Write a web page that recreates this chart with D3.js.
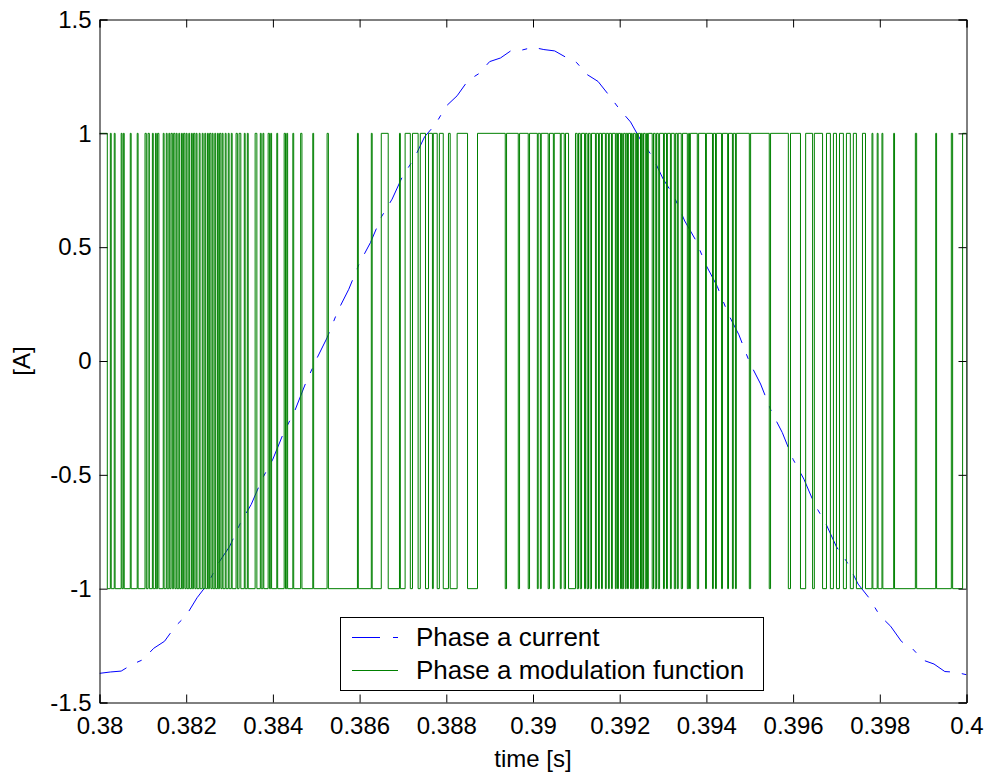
<!DOCTYPE html>
<html><head><meta charset="utf-8">
<script src="https://cdn.jsdelivr.net/npm/d3@7"></script>
<style>body{margin:0;background:#fff}svg{display:block}</style>
</head><body><div id="chart"></div>
<script>
// ---- data ----
const xTickValues = [0.38,0.382,0.384,0.386,0.388,0.39,0.392,0.394,0.396,0.398,0.4];
const xTickLabels = ["0.38","0.382","0.384","0.386","0.388","0.39","0.392","0.394","0.396","0.398","0.4"];
const yTickValues = [-1.5,-1,-0.5,0,0.5,1,1.5];
const yTickLabels = ["-1.5","-1","-0.5","0","0.5","1","1.5"];
const seriesNames = ["Phase a current","Phase a modulation function"];

const currentTime = [0.38,0.38025,0.3805,0.38075,0.381,0.38125,0.3815,0.38175,0.382,0.38225,0.3825,0.38275,0.383,0.38325,0.3835,0.38375,0.384,0.38425,0.3845,0.38475,0.385,0.38525,0.3855,0.38575,0.386,0.38625,0.3865,0.38675,0.387,0.38725,0.3875,0.38775,0.388,0.38825,0.3885,0.38875,0.389,0.38925,0.3895,0.38975,0.39,0.39025,0.3905,0.39075,0.391,0.39125,0.3915,0.39175,0.392,0.39225,0.3925,0.39275,0.393,0.39325,0.3935,0.39375,0.394,0.39425,0.3945,0.39475,0.395,0.39525,0.3955,0.39575,0.396,0.39625,0.3965,0.39675,0.397,0.39725,0.3975,0.39775,0.398,0.39825,0.3985,0.39875,0.399,0.39925,0.3995,0.39975,0.4];
const currentValue = [-1.372,-1.366,-1.362,-1.333,-1.312,-1.262,-1.231,-1.165,-1.118,-1.040,-0.978,-0.886,-0.815,-0.712,-0.630,-0.519,-0.431,-0.314,-0.221,-0.100,0.006,0.102,0.221,0.315,0.431,0.520,0.632,0.711,0.815,0.886,0.985,1.040,1.120,1.165,1.232,1.262,1.315,1.331,1.364,1.366,1.378,1.368,1.362,1.335,1.312,1.258,1.228,1.168,1.105,1.050,0.965,0.900,0.800,0.725,0.615,0.532,0.418,0.328,0.208,0.115,-0.008,-0.101,-0.222,-0.314,-0.432,-0.519,-0.631,-0.712,-0.816,-0.885,-0.980,-1.040,-1.118,-1.165,-1.232,-1.263,-1.314,-1.331,-1.364,-1.367,-1.378];

// modulation function: intervals where it is +1 (otherwise -1)
const pulseStart = [0.38000,0.38025,0.38034,0.38050,0.38055,0.38071,0.38087,0.38105,0.38112,0.38122,0.38129,0.38134,0.38147,0.38154,0.38160,0.38165,0.38171,0.38177,0.38183,0.38189,0.38194,0.38200,0.38206,0.38212,0.38217,0.38223,0.38230,0.38237,0.38243,0.38249,0.38254,0.38260,0.38266,0.38272,0.38277,0.38283,0.38290,0.38297,0.38304,0.38315,0.38322,0.38334,0.38341,0.38359,0.38371,0.38377,0.38389,0.38395,0.38409,0.38426,0.38432,0.38446,0.38464,0.38492,0.38525,0.38595,0.38627,0.38650,0.38692,0.38705,0.38722,0.38740,0.38759,0.38770,0.38784,0.38805,0.38825,0.38872,0.38939,0.38969,0.38992,0.39012,0.39019,0.39038,0.39049,0.39065,0.39075,0.39098,0.39105,0.39112,0.39121,0.39128,0.39135,0.39146,0.39153,0.39160,0.39169,0.39176,0.39183,0.39192,0.39197,0.39204,0.39209,0.39215,0.39220,0.39227,0.39232,0.39239,0.39243,0.39250,0.39255,0.39262,0.39266,0.39278,0.39285,0.39292,0.39303,0.39310,0.39319,0.39329,0.39335,0.39345,0.39359,0.39363,0.39382,0.39400,0.39416,0.39423,0.39437,0.39451,0.39462,0.39469,0.39502,0.39548,0.39594,0.39629,0.39649,0.39677,0.39693,0.39707,0.39723,0.39739,0.39760,0.39782,0.39794,0.39805,0.39832,0.39882,0.39929,0.39965,0.39991];
const pulseEnd   = [0.38018,0.38027,0.38036,0.38052,0.38057,0.38073,0.38089,0.38108,0.38115,0.38124,0.38131,0.38137,0.38149,0.38156,0.38162,0.38168,0.38174,0.38179,0.38185,0.38191,0.38197,0.38202,0.38208,0.38214,0.38220,0.38225,0.38232,0.38239,0.38245,0.38251,0.38257,0.38262,0.38268,0.38274,0.38280,0.38285,0.38292,0.38299,0.38306,0.38318,0.38326,0.38336,0.38343,0.38363,0.38373,0.38379,0.38392,0.38397,0.38411,0.38429,0.38434,0.38448,0.38467,0.38494,0.38528,0.38597,0.38629,0.38666,0.38694,0.38717,0.38735,0.38752,0.38768,0.38779,0.38793,0.38809,0.38849,0.38936,0.38966,0.38989,0.39010,0.39017,0.39035,0.39047,0.39063,0.39072,0.39082,0.39102,0.39109,0.39119,0.39125,0.39132,0.39144,0.39151,0.39158,0.39167,0.39174,0.39181,0.39190,0.39195,0.39202,0.39206,0.39213,0.39218,0.39225,0.39229,0.39236,0.39241,0.39248,0.39252,0.39259,0.39264,0.39275,0.39282,0.39289,0.39301,0.39308,0.39317,0.39326,0.39333,0.39342,0.39356,0.39361,0.39379,0.39398,0.39414,0.39421,0.39435,0.39449,0.39460,0.39467,0.39499,0.39545,0.39589,0.39617,0.39645,0.39668,0.39686,0.39700,0.39716,0.39732,0.39746,0.39767,0.39784,0.39796,0.39807,0.39834,0.39885,0.39931,0.39968,0.40000];

// ---- layout ----
const W = 991, H = 776;
const M = {left: 99.5, right: 966.5, top: 19.5, bottom: 702.5};
const FONT = "'Liberation Sans', Arial, Helvetica, sans-serif";

const svg = d3.select("#chart").append("svg").attr("width", W).attr("height", H)
  .style("font-family", FONT);

const x = d3.scaleLinear().domain([0.38, 0.4]).range([M.left, M.right]);
const y = d3.scaleLinear().domain([-1.5, 1.5]).range([M.bottom, M.top]);

svg.append("defs").append("clipPath").attr("id", "clip")
  .append("rect").attr("x", M.left).attr("y", M.top)
  .attr("width", M.right - M.left).attr("height", M.bottom - M.top);

// current (blue dashed)
const curData = currentTime.map((t, i) => [t, currentValue[i]]);
const line = d3.line().x(d => x(d[0])).y(d => y(d[1]));
svg.append("path").datum(curData).attr("d", line)
  .attr("clip-path", "url(#clip)")
  .attr("fill", "none").attr("stroke", "#0000ff").attr("stroke-width", 1)
  .attr("stroke-dasharray", "28,12,5,12");

// modulation (green step)
const pwm = [];
pulseStart.forEach((s, i) => {
  const e = pulseEnd[i];
  if (pwm.length === 0 && s > 0.38) pwm.push([0.38, -1]);
  pwm.push([s, -1], [s, 1], [e, 1], [e, -1]);
});
if (pwm[0][0] === 0.38 && pwm[0][1] === -1 && pwm[1][0] === 0.38) pwm.shift();
if (pwm[pwm.length - 1][0] < 0.4) pwm.push([0.4, -1]);
svg.append("path").datum(pwm).attr("d", line)
  .attr("clip-path", "url(#clip)")
  .attr("fill", "none").attr("stroke", "#008000").attr("stroke-width", 1);

// axes box + ticks (inward, MATLAB style)
const axisG = svg.append("g");
const tickLen = 8;
axisG.append("g").attr("transform", `translate(0,${M.bottom})`)
  .call(d3.axisBottom(x).tickValues(xTickValues).tickSize(-tickLen).tickPadding(tickLen + 6)
    .tickFormat((d, i) => xTickLabels[i]));
axisG.append("g").attr("transform", `translate(0,${M.top})`)
  .call(d3.axisTop(x).tickValues(xTickValues).tickSize(-tickLen).tickFormat(""));
axisG.append("g").attr("transform", `translate(${M.left},0)`)
  .call(d3.axisLeft(y).tickValues(yTickValues).tickSize(-tickLen).tickPadding(8)
    .tickFormat((d, i) => yTickLabels[i]));
axisG.append("g").attr("transform", `translate(${M.right},0)`)
  .call(d3.axisRight(y).tickValues(yTickValues).tickSize(-tickLen).tickFormat(""));
axisG.selectAll(".domain").attr("stroke", "#000").attr("stroke-width", 1);
axisG.selectAll(".tick line").attr("stroke", "#000");
axisG.selectAll("text").attr("font-size", 24).attr("fill", "#000").style("font-family", FONT);

// axis titles
svg.append("text").attr("x", (M.left + M.right) / 2).attr("y", 767)
  .attr("text-anchor", "middle").attr("font-size", 24).text("time [s]");
svg.append("text").attr("transform", `translate(30,${(M.top + M.bottom) / 2}) rotate(-90)`)
  .attr("text-anchor", "middle").attr("font-size", 24).text("[A]");

// legend
const lg = svg.append("g");
lg.append("rect").attr("x", 340.5).attr("y", 617.5).attr("width", 423).attr("height", 73)
  .attr("fill", "#fff").attr("stroke", "#000").attr("stroke-width", 1);
const rows = [{y: 637, color: "#0000ff", dash: "28,13,5,13"}, {y: 670, color: "#008000", dash: null}];
rows.forEach((r, i) => {
  const l = lg.append("line").attr("x1", 352).attr("x2", 398).attr("y1", r.y + 0.5).attr("y2", r.y + 0.5)
    .attr("stroke", r.color).attr("stroke-width", 1);
  if (r.dash) l.attr("stroke-dasharray", r.dash);
  lg.append("text").attr("x", 416).attr("y", r.y + 8.5).attr("font-size", 26).text(seriesNames[i]);
});
</script></body></html>
